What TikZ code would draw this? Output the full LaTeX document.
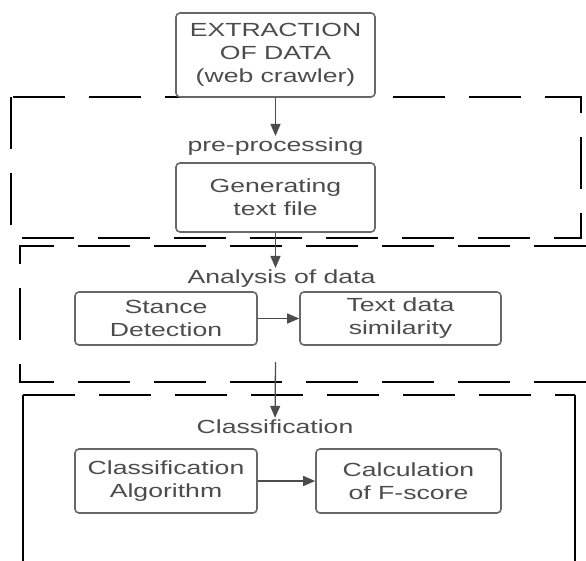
\documentclass[tikz,border=0pt]{standalone}
\usepackage{fontspec}
\setmainfont{Liberation Sans}
\newfontfamily\widesans[FakeStretch=1.4]{Liberation Sans}
\usetikzlibrary{arrows.meta}
\definecolor{boxgray}{HTML}{686868}
\definecolor{txtgray}{HTML}{4c4c4c}

\begin{document}
\begin{tikzpicture}[x=1pt, y=-1pt,
        font=\widesans\fontsize{19}{23}\selectfont,
        stepbox/.style={draw=boxgray, line width=1.6pt, rounded corners=4pt,
                text=txtgray, align=center, inner sep=0pt},
        steplabel/.style={text=txtgray, inner sep=2pt},
        flow/.style={draw=txtgray, line width=1.3pt,
                -{Triangle[length=12pt,width=10pt]}},
        stage/.style={draw=black, line width=1.7pt, dash pattern=on 52pt off 24pt},
        stageside/.style={draw=black, line width=1.7pt}]
        \useasboundingbox (0,0) rectangle (586,560);
        % dashed stage frames
        \draw[stage] (11,97) rectangle (581,238);
        \draw[stage] (586,246) -- (20,246) -- (20,382) -- (586,382);
        \draw[stage] (23,395) -- (575,395);
        \draw[stageside] (23,575) -- (23,395);
        \draw[stageside] (575,395) -- (575,575);
        % steps
        \node (extract) [stepbox, minimum width=199pt, minimum height=84pt] at (275.5, 55) {EXTRACTION\\OF DATA\\(web crawler)};
        \node (prep) [steplabel] at (275.5, 147) {pre-processing};
        \node (gen) [stepbox, minimum width=199pt, minimum height=69pt] at (275.5, 197.5) {Generating\\text file};
        \node (analysis) [steplabel] at (281.5, 279) {Analysis of data};
        \node (stance) [stepbox, minimum width=182pt, minimum height=53pt] at (166, 318.5) {Stance\\Detection};
        \node (textsim) [stepbox, minimum width=201pt, minimum height=53pt] at (400.5, 318.5) {Text data\\similarity};
        \coordinate (split) at (275.5, 362);
        \node (classlbl) [steplabel] at (275, 427) {Classification};
        \node (algo) [stepbox, minimum width=182pt, minimum height=64pt] at (166, 481) {Classification\\Algorithm};
        \node (fscore) [stepbox, minimum width=185pt, minimum height=64pt] at (408.5, 481) {Calculation\\of F-score};
        % connectors
        \draw[flow] (extract) -- (prep);
        \draw[flow] (gen) -- (analysis.north -| gen);
        \draw[flow] (stance) -- (textsim);
        \draw[flow] (split) -- (classlbl);
        \draw[flow] (algo) -- (fscore);
\end{tikzpicture}
\end{document}
